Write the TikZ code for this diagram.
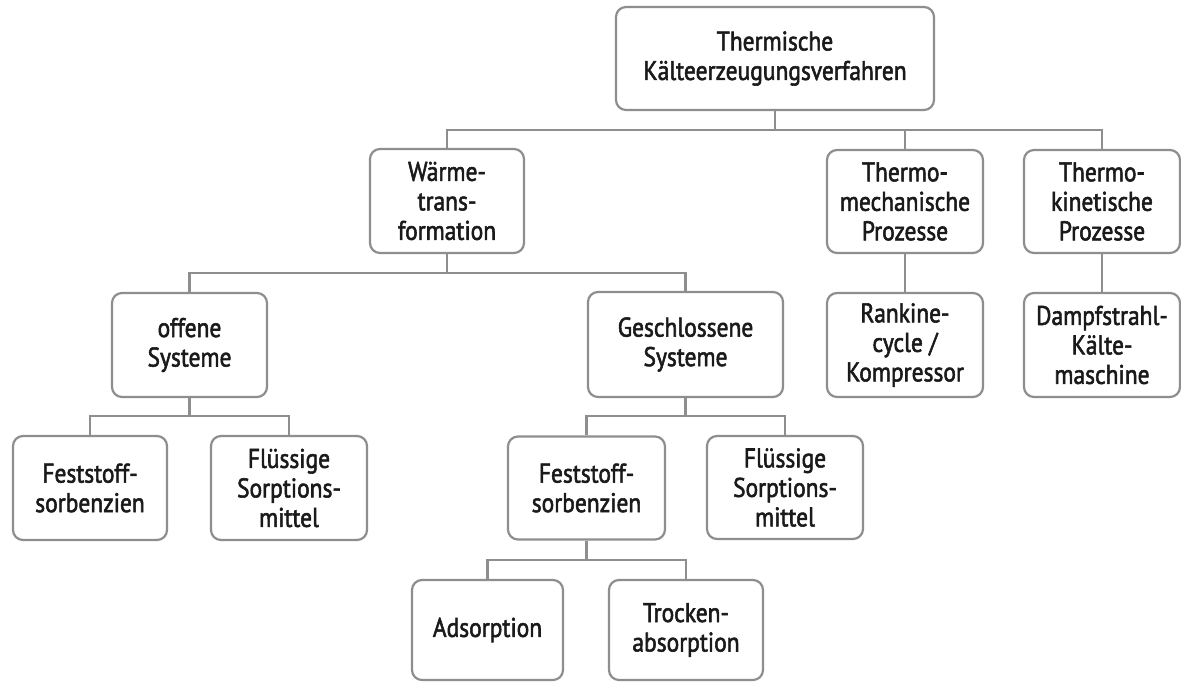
\documentclass[tikz,border=0pt]{standalone}
\usepackage{fontspec}
\setmainfont{PT Sans}[FakeStretch=0.87, FakeBold=2]
\definecolor{linegray}{HTML}{8E8E8E}
\definecolor{txt}{HTML}{1A1A1A}
\begin{document}
\begin{tikzpicture}[x=1pt,y=-1pt,
  box/.style={draw=linegray, line width=2.2pt, rounded corners=10pt, align=center,
    text=txt, font=\fontsize{27}{29.5}\selectfont, inner sep=0pt},
  conn/.style={draw=linegray, line width=2.4pt}]
\useasboundingbox (0,0) rectangle (1181,682);
\fill[white] (0,0) rectangle (1181,682);
\node[box, minimum width=318pt, minimum height=103pt] (root) at (775,58.5) {Thermische\\Kälteerzeugungsverfahren};
\node[box, minimum width=154pt, minimum height=104pt] (waerme) at (447,201) {Wärme-\\trans-\\formation};
\node[box, minimum width=156pt, minimum height=103pt] (thmech) at (905,201.5) {Thermo-\\mechanische\\Prozesse};
\node[box, minimum width=156pt, minimum height=103pt] (thkin) at (1102,201.5) {Thermo-\\kinetische\\Prozesse};
\node[box, minimum width=156pt, minimum height=104pt] (rankine) at (905,345) {Rankine-\\cycle /\\Kompressor};
\node[box, minimum width=156pt, minimum height=104pt] (dampf) at (1102,345) {Dampfstrahl-\\Kälte-\\maschine};
\node[box, minimum width=155pt, minimum height=104pt] (offen) at (189.5,345) {offene\\Systeme};
\node[box, minimum width=195pt, minimum height=105pt] (geschl) at (685.5,344.5) {Geschlossene\\Systeme};
\node[box, minimum width=154pt, minimum height=104pt] (fest1) at (90,488) {Feststoff-\\sorbenzien};
\node[box, minimum width=156pt, minimum height=104pt] (fluess1) at (289,488) {Flüssige\\Sorptions-\\mittel};
\node[box, minimum width=157pt, minimum height=103pt] (fest2) at (586.5,488) {Feststoff-\\sorbenzien};
\node[box, minimum width=156pt, minimum height=103pt] (fluess2) at (785,487.5) {Flüssige\\Sorptions-\\mittel};
\node[box, minimum width=151pt, minimum height=100pt] (ads) at (487.5,630) {Adsorption};
\node[box, minimum width=154pt, minimum height=100pt] (trock) at (686,630) {Trocken-\\absorption};
% level 1
\draw[conn] (root.south) -- (root.south |- 0,130);
\draw[conn] (waerme.north) -- (waerme.north |- 0,130) -- (thkin.north |- 0,130) -- (thkin.north);
\draw[conn] (thmech.north) -- (thmech.north |- 0,130);
% right columns
\draw[conn] (thmech.south) -- (rankine.north);
\draw[conn] (thkin.south) -- (dampf.north);
% level 2
\draw[conn] (waerme.south) -- (waerme.south |- 0,273);
\draw[conn] (offen.north) -- (offen.north |- 0,273) -- (geschl.north |- 0,273) -- (geschl.north);
% level 3 left
\draw[conn] (offen.south) -- (offen.south |- 0,416);
\draw[conn] (fest1.north) -- (fest1.north |- 0,416) -- (fluess1.north |- 0,416) -- (fluess1.north);
% level 3 right
\draw[conn] (geschl.south) -- (geschl.south |- 0,416);
\draw[conn] (fest2.north) -- (fest2.north |- 0,416) -- (fluess2.north |- 0,416) -- (fluess2.north);
% level 4
\draw[conn] (fest2.south) -- (fest2.south |- 0,560);
\draw[conn] (ads.north) -- (ads.north |- 0,560) -- (trock.north |- 0,560) -- (trock.north);
\end{tikzpicture}
\end{document}
